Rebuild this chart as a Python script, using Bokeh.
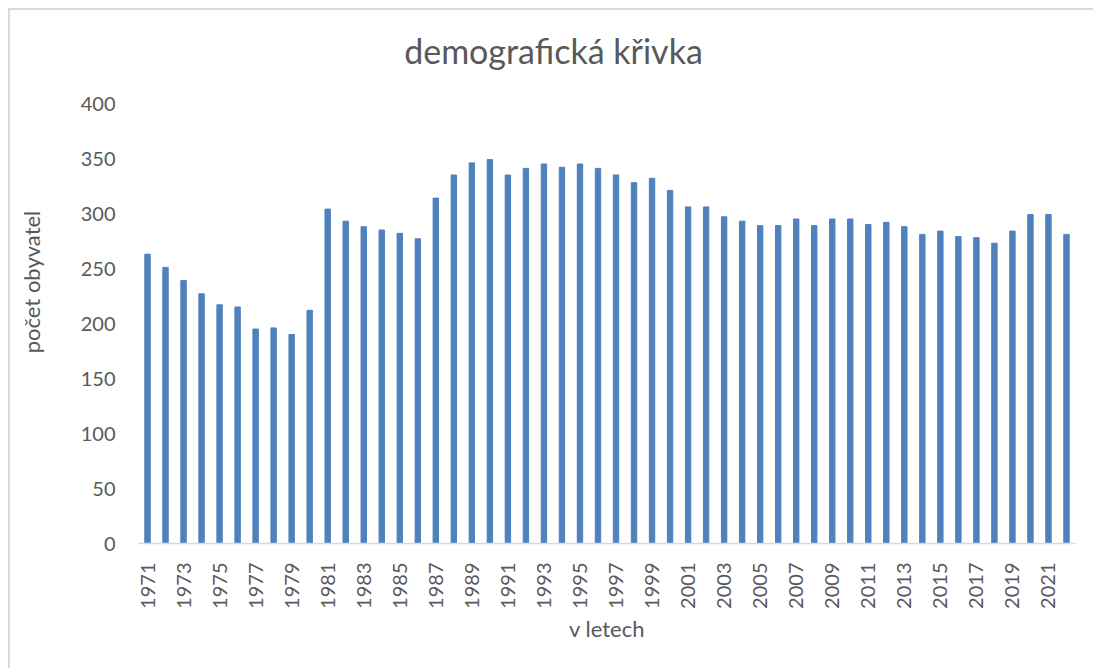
from bokeh.plotting import figure
from bokeh.models import Range1d, FixedTicker, Label
from bokeh.embed import file_html
from bokeh.resources import INLINE
import math

years = list(range(1971, 2023))
values = [263, 251, 239, 227, 217, 215, 195, 196, 190, 212,
          304, 293, 288, 285, 282, 277, 314, 335, 346, 349,
          335, 341, 345, 342, 345, 341, 335, 328, 332, 321,
          306, 306, 297, 293, 289, 289, 295, 289, 295, 295,
          290, 292, 288, 281, 284, 279, 278, 273, 284, 299,
          299, 281]
tick_years = list(range(1971, 2023, 2))
y_ticks = [0, 50, 100, 150, 200, 250, 300, 350, 400]
title_text = "demografická křivka"

FONT = "Lato"
GREY = "#595959"

# frame spans canvas y 20..543; value 400 sits at y=103 (1.1 px per unit),
# the empty space above 400 hosts the title (no grid, no y axis line)
FRAME_TOP, FRAME_BOTTOM = 20, 543
y_end = (FRAME_BOTTOM - FRAME_TOP) / 1.1

p = figure(width=1093, height=668, output_backend="svg", toolbar_location=None,
           x_range=Range1d(1970.5, 2022.5), y_range=Range1d(0, y_end),
           min_border_left=138, min_border_right=18,
           min_border_top=FRAME_TOP, min_border_bottom=668 - FRAME_BOTTOM)
p.border_fill_color = None
p.background_fill_color = None
p.styles = {
    "background": "linear-gradient(#d9d9d9,#d9d9d9) 8px 8px / 2px 100% no-repeat, "
                  "linear-gradient(#d9d9d9,#d9d9d9) 8px 8px / 100% 2px no-repeat, #ffffff",
}

p.vbar(x=years, top=values, width=0.3, color="#4F81BD")

# screen units are measured from the frame's bottom-left corner
title = Label(x=553 - 138, y=FRAME_BOTTOM - 50, x_units="screen", y_units="screen",
              text=title_text, text_align="center", text_baseline="middle",
              text_font=FONT, text_font_size="34px", text_color=GREY)
p.add_layout(title)

p.xgrid.visible = False
p.ygrid.visible = False
p.outline_line_color = None

p.xaxis.ticker = FixedTicker(ticks=tick_years)
p.xaxis.major_label_orientation = math.pi / 2
p.xaxis.axis_line_color = "#D9D9D9"
p.xaxis.axis_line_width = 1.5
p.xaxis.major_tick_line_color = None
p.xaxis.minor_tick_line_color = None
p.xaxis.major_label_standoff = 13
p.xaxis.axis_label = "v letech"
p.xaxis.axis_label_standoff = 3

p.yaxis.ticker = FixedTicker(ticks=y_ticks)
p.yaxis.axis_line_color = None
p.yaxis.major_tick_line_color = None
p.yaxis.minor_tick_line_color = None
p.yaxis.major_label_standoff = 17
p.yaxis.axis_label = "počet obyvatel"
p.yaxis.axis_label_standoff = 33

for ax in (p.xaxis, p.yaxis):
    ax.major_label_text_font = FONT
    ax.major_label_text_font_size = "20px"
    ax.major_label_text_color = GREY
    ax.axis_label_text_font = FONT
    ax.axis_label_text_font_size = "22px"
    ax.axis_label_text_font_style = "normal"
    ax.axis_label_text_color = GREY

open("out.html", "w").write(file_html(p, INLINE))
